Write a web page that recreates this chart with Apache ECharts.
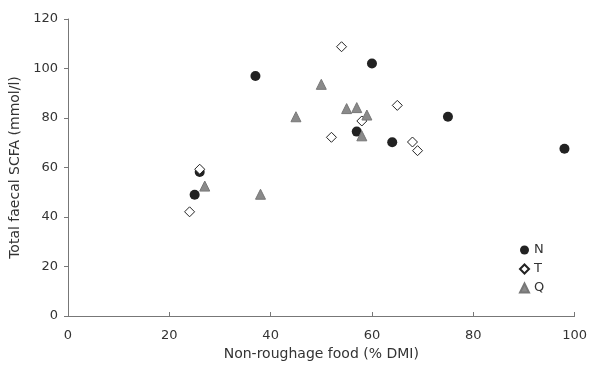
<!DOCTYPE html>
<html>
<head>
<meta charset="utf-8">
<script src="https://cdn.jsdelivr.net/npm/echarts@6/dist/echarts.min.js"></script>
<style>
  html, body { margin: 0; padding: 0; background: #fff; }
  #chart { width: 590px; height: 367px; }
</style>
</head>
<body>
<div id="chart"></div>
<script>
// values: [non-roughage food %DMI, total faecal SCFA mmol/l]
const groupN = [[26, 58.2], [37, 97], [25, 49], [60, 102], [75, 80.5], [64, 70.2], [98, 67.6], [57, 74.5]]
const groupT = [[54, 108.8], [65, 85.1], [52, 72.2], [58, 78.8], [68, 70.3], [69, 66.8], [26, 59.3], [24, 42.1]]
const groupQ = [[27, 52.5], [38, 49.2], [45, 80.5], [50, 93.6], [55, 83.8], [57, 84.2], [59, 81.2], [58, 72.8]]

const font = 'DejaVu Sans, Verdana, sans-serif'
const chart = echarts.init(document.getElementById('chart'))

chart.setOption({
  animation: false,
  textStyle: { fontFamily: font },
  grid: { left: 68, right: 15, top: 19, bottom: 51 },
  legend: {
    orient: 'vertical',
    left: 514,
    top: 238,
    itemWidth: 9,
    itemHeight: 9,
    itemGap: 5,
    textStyle: { fontFamily: font, fontSize: 13, color: '#333', lineHeight: 14 },
    data: [
      { name: 'N', icon: 'circle' },
      { name: 'T', icon: 'diamond' },
      { name: 'Q', icon: 'triangle' }
    ]
  },
  xAxis: {
    type: 'value',
    min: 0,
    max: 100,
    interval: 20,
    name: 'Non-roughage food (% DMI)',
    nameLocation: 'middle',
    nameGap: 30,
    nameTextStyle: { fontFamily: font, fontSize: 14, color: '#333' },
    axisLine: { show: true, lineStyle: { color: '#777' } },
    axisTick: { show: true, inside: true, length: 4, lineStyle: { color: '#777' } },
    axisLabel: { fontFamily: font, fontSize: 13, color: '#333', margin: 13 },
    splitLine: { show: false }
  },
  yAxis: {
    type: 'value',
    min: 0,
    max: 120,
    interval: 20,
    name: 'Total faecal SCFA (mmol/l)',
    nameLocation: 'middle',
    nameGap: 40,
    nameTextStyle: { fontFamily: font, fontSize: 14, color: '#333' },
    axisLine: { show: true, lineStyle: { color: '#777' } },
    axisTick: { show: true, length: 4, lineStyle: { color: '#777' } },
    axisLabel: { fontFamily: font, fontSize: 13, color: '#333', margin: 10 },
    splitLine: { show: false }
  },
  series: [
    {
      name: 'N',
      type: 'scatter',
      symbol: 'circle',
      symbolSize: 10,
      itemStyle: { color: '#222', opacity: 1 },
      data: groupN
    },
    {
      name: 'T',
      type: 'scatter',
      symbol: 'diamond',
      symbolSize: 10,
      itemStyle: { color: '#fff', borderColor: '#222', borderWidth: 1, opacity: 1 },
      data: groupT
    },
    {
      name: 'Q',
      type: 'scatter',
      symbol: 'triangle',
      symbolSize: 10,
      itemStyle: { color: '#8a8a8a', borderColor: '#777', borderWidth: 1, opacity: 1 },
      data: groupQ
    }
  ]
})
</script>
</body>
</html>
